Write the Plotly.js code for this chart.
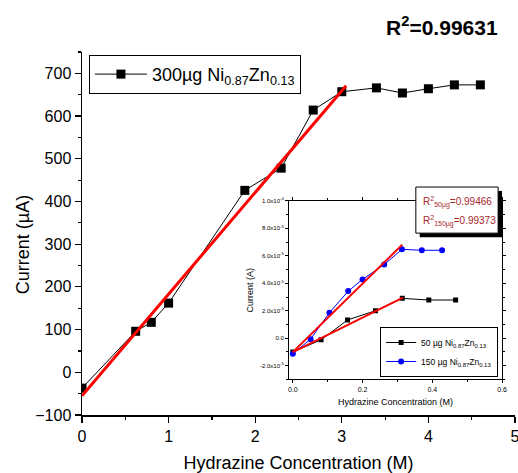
<!DOCTYPE html>
<html><head><meta charset="utf-8">
<script src="https://cdn.plot.ly/plotly-3.0.1.min.js"></script>
<style>html,body{margin:0;padding:0;background:#fff}#chart{width:518px;height:473px}</style>
</head><body><div id="chart"></div>
<script>
// Main series: 300 µg Ni0.87Zn0.13
const conc300 = [0, 0.62, 0.8, 1.0, 1.88, 2.3, 2.67, 3.0, 3.4, 3.7, 4.0, 4.3, 4.6];
const current300 = [-37, 96, 117, 162, 426, 478, 614, 657, 666, 654, 664, 673, 673];
const fit300X = [0, 3.05];
const fit300Y = [-55, 671];

// Inset series
const conc50 = [0, 0.081, 0.157, 0.237, 0.314, 0.39, 0.467];
const current50 = [-1.0e-5, -0.12e-5, 1.33e-5, 2.0e-5, 2.9e-5, 2.78e-5, 2.78e-5];
const conc150 = [0, 0.051, 0.105, 0.159, 0.2, 0.262, 0.313, 0.37, 0.428];
const current150 = [-1.13e-5, -0.07e-5, 1.86e-5, 3.43e-5, 4.28e-5, 5.36e-5, 6.47e-5, 6.4e-5, 6.4e-5];
const fit50X = [0, 0.316];
const fit50Y = [-1.01e-5, 2.95e-5];
const fit150X = [0, 0.314];
const fit150Y = [-1.01e-5, 6.81e-5];

const insetTickVals = [-2e-5, 0, 2e-5, 4e-5, 6e-5, 8e-5, 1e-4];
const insetTickText = ['-2.0x10<sup>-5</sup>', '0.0', '2.0x10<sup>-5</sup>', '4.0x10<sup>-5</sup>', '6.0x10<sup>-5</sup>', '8.0x10<sup>-5</sup>', '1.0x10<sup>-4</sup>'];

const mainName = '300µg Ni<sub>0.87</sub>Zn<sub>0.13</sub>';
const name50 = '50 µg Ni<sub>0.87</sub>Zn<sub>0.13</sub>';
const name150 = '150 µg Ni<sub>0.87</sub>Zn<sub>0.13</sub>';
const r2Main = 'R<sup>2</sup>=0.99631';
const r2Labels = ['50µg', '150µg'];
const r2Values = ['0.99466', '0.99373'];

const FONT = 'Liberation Sans, Arial, sans-serif';
const R2COLOR = '#a8282c';

const traces = [
  {x: conc300, y: current300, type: 'scatter', mode: 'lines+markers', name: mainName,
   line: {color: '#000', width: 1}, marker: {symbol: 'square', size: 9, color: '#000'},
   xaxis: 'x', yaxis: 'y', legend: 'legend'},
  {x: fit300X, y: fit300Y, type: 'scatter', mode: 'lines', showlegend: false,
   line: {color: '#ff0000', width: 3}, xaxis: 'x', yaxis: 'y'},
  {x: conc50, y: current50, type: 'scatter', mode: 'lines+markers', name: name50,
   line: {color: '#000', width: 1}, marker: {symbol: 'square', size: 5, color: '#000'},
   xaxis: 'x2', yaxis: 'y2', legend: 'legend2'},
  {x: conc150, y: current150, type: 'scatter', mode: 'lines+markers', name: name150,
   line: {color: '#0000ff', width: 1}, marker: {symbol: 'circle', size: 6, color: '#0000ff'},
   xaxis: 'x2', yaxis: 'y2', legend: 'legend2'},
  {x: fit50X, y: fit50Y, type: 'scatter', mode: 'lines', showlegend: false,
   line: {color: '#ff0000', width: 2}, xaxis: 'x2', yaxis: 'y2'},
  {x: fit150X, y: fit150Y, type: 'scatter', mode: 'lines', showlegend: false,
   line: {color: '#ff0000', width: 2}, xaxis: 'x2', yaxis: 'y2'}
];

const axBase = {showgrid: false, zeroline: false, showline: true, linecolor: '#000', linewidth: 1.5,
  tickcolor: '#000', tickwidth: 1.2};

// R² box lines
const r2Ys = [0.5868, 0.5336];
const r2Annotations = r2Labels.map(function (lab, i) {
  return {text: 'R<sup>2</sup><sub>' + lab + '</sub>=' + r2Values[i], xref: 'paper', yref: 'paper',
    x: 0.7825, y: r2Ys[i], xanchor: 'left', yanchor: 'middle', showarrow: false,
    font: {size: 10, color: R2COLOR, family: FONT}};
});

const layout = {
  width: 518, height: 473,
  margin: {l: 82, r: 3, t: 52, b: 58},
  paper_bgcolor: '#fff', plot_bgcolor: '#fff',
  font: {family: FONT, color: '#000'},
  title: {text: '<b>' + r2Main + '</b>', font: {size: 21, family: FONT, color: '#000'},
    xref: 'container', yref: 'container', x: 0.853, y: 0.942, xanchor: 'center', yanchor: 'middle'},
  xaxis: Object.assign({}, axBase, {
    range: [0, 5], domain: [0, 1], anchor: 'y', dtick: 1, tick0: 0, ticks: 'outside', ticklen: 6,
    minor: {dtick: 0.5, ticks: 'outside', ticklen: 3, tickcolor: '#000'}, ticklabeloverflow: 'allow',
    tickfont: {size: 16}, title: {text: 'Hydrazine Concentration (M)', font: {size: 18}, standoff: 14}
  }),
  yaxis: Object.assign({}, axBase, {
    range: [-100, 750], domain: [0, 1], anchor: 'x', dtick: 100, tick0: 0, ticks: 'outside', ticklen: 6,
    minor: {dtick: 50, ticks: 'outside', ticklen: 3, tickcolor: '#000'},
    tickfont: {size: 16}
  }),
  xaxis3: Object.assign({}, axBase, {
    overlaying: 'x', side: 'top', anchor: 'y', range: [0, 5], dtick: 1, tick0: 0, ticks: 'inside', ticklen: 6,
    minor: {dtick: 0.5, ticks: 'inside', ticklen: 3, tickcolor: '#000'}, showticklabels: false
  }),
  yaxis3: Object.assign({}, axBase, {
    overlaying: 'y', side: 'right', anchor: 'x', range: [-100, 750], dtick: 100, tick0: 0, ticks: 'inside', ticklen: 6,
    minor: {dtick: 50, ticks: 'inside', ticklen: 3, tickcolor: '#000'}, showticklabels: false
  }),
  xaxis2: Object.assign({}, axBase, {
    domain: [0.478, 0.970], anchor: 'y2', range: [-0.011, 0.6], linewidth: 1,
    tickvals: [0, 0.2, 0.4, 0.6], ticktext: ['0.0', '0.2', '0.4', '0.6'], ticks: 'outside', ticklen: 3, tickwidth: 1,
    minor: {tickvals: [0.1, 0.3, 0.5], ticks: 'outside', ticklen: 2, tickcolor: '#000'},
    mirror: 'allticks', tickfont: {size: 7}, ticklabeloverflow: 'allow',
    title: {text: 'Hydrazine Concentration (M)', font: {size: 9}, standoff: 6}
  }),
  yaxis2: Object.assign({}, axBase, {
    domain: [0.098, 0.590], anchor: 'x2', range: [-3e-5, 1e-4], linewidth: 1,
    tickvals: insetTickVals, ticktext: insetTickText, ticks: 'outside', ticklen: 3, tickwidth: 1,
    minor: {dtick: 1e-5, tick0: 0, ticks: 'outside', ticklen: 2, tickcolor: '#000'},
    mirror: 'allticks', tickfont: {size: 6},
    title: {text: 'Current (A)', font: {size: 9}, standoff: 4}
  }),
  legend: {x: 0.016, y: 0.992, xanchor: 'left', yanchor: 'top', bgcolor: '#fff',
    bordercolor: '#000', borderwidth: 1, font: {size: 18}, itemwidth: 52, tracegroupgap: 0},
  legend2: {x: 0.961, y: 0.1047, xanchor: 'right', yanchor: 'bottom', bgcolor: '#fff',
    bordercolor: '#000', borderwidth: 1, font: {size: 8.5}, itemwidth: 30, tracegroupgap: 0},
  shapes: [
    {type: 'rect', xref: 'paper', yref: 'paper', x0: 0.780, x1: 0.970, y0: 0.490, y1: 0.617,
     fillcolor: '#000', line: {width: 0}, layer: 'above'},
    {type: 'rect', xref: 'paper', yref: 'paper', x0: 0.771, x1: 0.961, y0: 0.501, y1: 0.628,
     fillcolor: '#fff', line: {color: '#000', width: 1}, layer: 'above'}
  ],
  annotations: [
    {text: 'Current (µA)', xref: 'paper', yref: 'paper', x: -0.136, y: 0.468, textangle: -90,
     xanchor: 'center', yanchor: 'middle', showarrow: false, font: {size: 18, color: '#000', family: FONT}}
  ].concat(r2Annotations)
};

Plotly.newPlot('chart', traces, layout, {displayModeBar: false, staticPlot: true});
</script>
</body></html>
